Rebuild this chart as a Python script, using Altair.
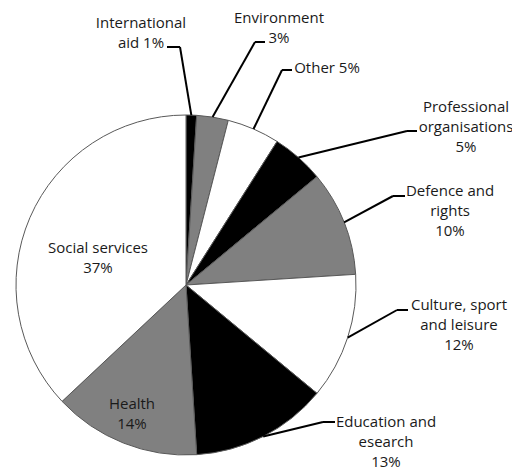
import altair as alt
import numpy as np
import pandas as pd

# Shares of charitable activity by field (%), clockwise from 12 o'clock
categories = [
    "International aid",
    "Environment",
    "Other",
    "Professional organisations",
    "Defence and rights",
    "Culture, sport and leisure",
    "Education and esearch",
    "Health",
    "Social services",
]
shares = [1, 3, 5, 5, 10, 12, 13, 14, 37]

# Label text before the percentage (the separator decides where it wraps)
label_stub = [
    "International\naid ",
    "Environment\n",
    "Other ",
    "Professional\norganisations\n",
    "Defence and\nrights\n",
    "Culture, sport\nand leisure\n",
    "Education and\nesearch\n",
    "Health\n",
    "Social services\n",
]

# Slice fills cycle black / grey / white
fills = ["black", "#808080", "white"] * 3

# ---- layout (pixels) ----
W, H = 512, 471
CX, CY, R = 186, 285, 170
# centre x and first-line y of each label
label_xy = [(141, 23), (279, 18), (327, 68), (466, 107), (450, 191),
            (459, 305), (386, 422), (132, 404), (98, 248)]
# leader lines: elbow point and end point next to the text (None = label inside slice)
leader_elbow = [(180, 47), (255, 42), (282, 70), (407, 131), (393, 196),
                (397, 310), (323, 422), None, None]
leader_end = [(167, 47), (265, 42), (292, 70), (417, 131), (405, 196),
              (408, 310), (335, 422), None, None]

share_arr = np.array(shares, dtype=float)
mid = (np.cumsum(share_arr) - share_arr / 2) / share_arr.sum() * 2 * np.pi

pie_df = pd.DataFrame({"category": categories, "share": shares,
                       "idx": list(range(len(categories)))})

lab_df = pd.DataFrame({
    "label": [f"{s}{v}%" for s, v in zip(label_stub, shares)],
    "x": [p[0] for p in label_xy],
    "y": [p[1] for p in label_xy],
})

segs = []
for a, el, en in zip(mid, leader_elbow, leader_end):
    if el is None:
        continue
    ax, ay = CX + R * np.sin(a), CY - R * np.cos(a)
    segs.append({"x": ax, "y": ay, "x2": el[0], "y2": el[1]})
    segs.append({"x": el[0], "y": el[1], "x2": en[0], "y2": en[1]})
seg_df = pd.DataFrame(segs)

xs = alt.Scale(domain=[0, W], nice=False, zero=False)
ys = alt.Scale(domain=[0, H], reverse=True, nice=False, zero=False)

pie = alt.Chart(pie_df).mark_arc(radius=R, stroke="#595959", strokeWidth=1).encode(
    theta=alt.Theta("share:Q", stack=True),
    order=alt.Order("idx:Q"),
    color=alt.Color("category:N", scale=alt.Scale(domain=categories, range=fills), legend=None),
    x=alt.value(CX),
    y=alt.value(CY),
)

leaders = alt.Chart(seg_df).mark_rule(color="black", strokeWidth=2).encode(
    x=alt.X("x:Q", scale=xs, axis=None),
    y=alt.Y("y:Q", scale=ys, axis=None),
    x2="x2:Q",
    y2="y2:Q",
)

labels = alt.Chart(lab_df).mark_text(
    font="Open Sans", fontSize=15, lineBreak="\n", lineHeight=20,
    align="center", baseline="middle", color="#1a1a1a",
).encode(
    x=alt.X("x:Q", scale=xs, axis=None),
    y=alt.Y("y:Q", scale=ys, axis=None),
    text="label:N",
)

chart = alt.layer(pie, leaders, labels).properties(
    width=W, height=H, padding=0,
    autosize=alt.AutoSizeParams(type="none"),
    background="white",
).configure_view(stroke=None)

chart.save("out.html", embed_options={"renderer": "svg", "actions": False})
